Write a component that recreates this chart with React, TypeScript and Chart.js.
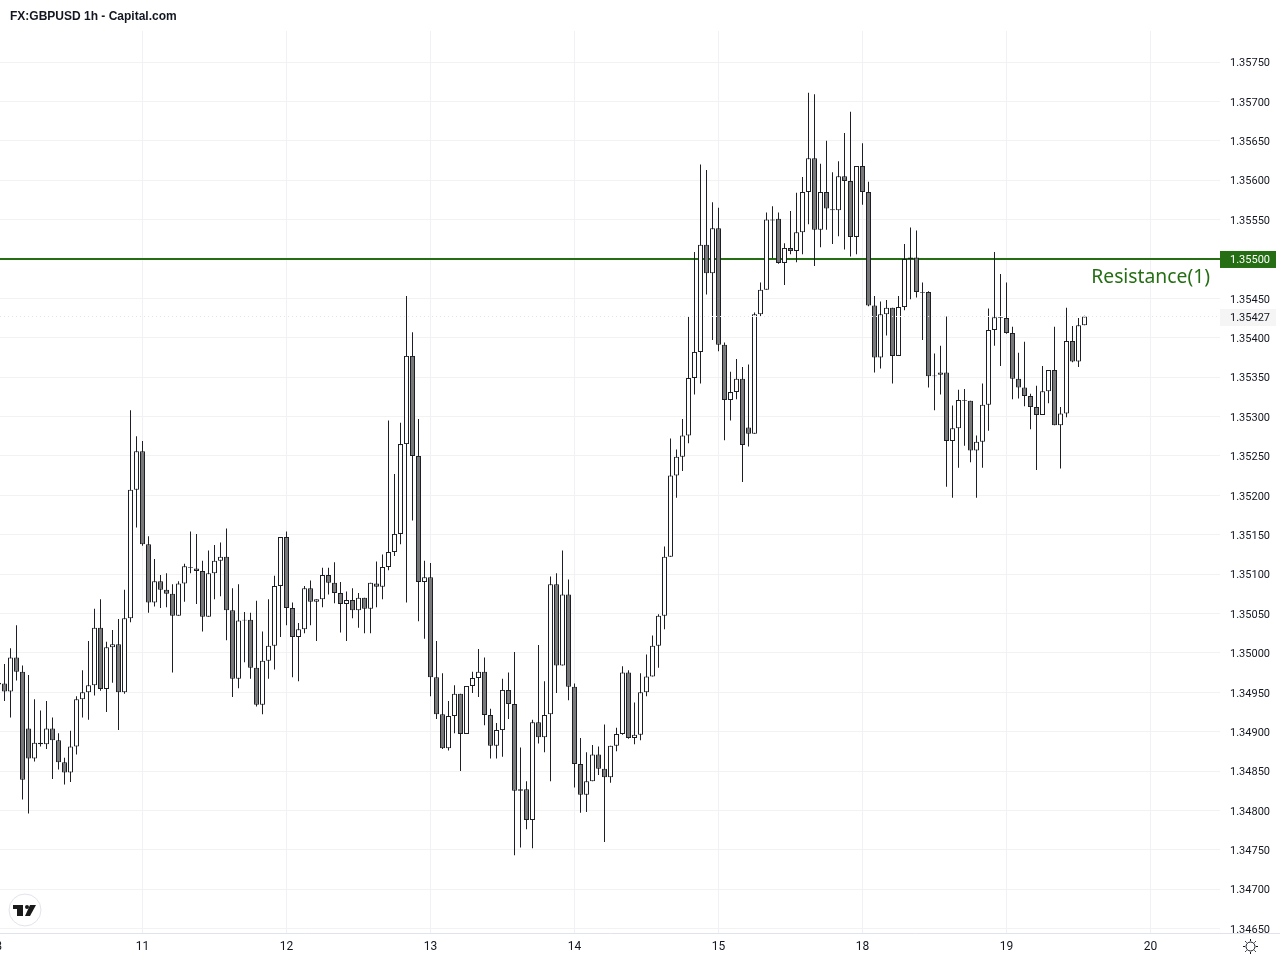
import React, { useEffect, useRef } from 'react'
import { Chart, registerables } from 'chart.js'

Chart.register(...registerables)

// hour of the first candle, counted from the 11th 00:00
const firstHour = -24

const opens = [
  1.34962, 1.34961, 1.34951, 1.34994, 1.34976, 1.34904, 1.34866, 1.34886, 1.34884, 1.34904, 1.34889,
  1.34861, 1.34848, 1.34881, 1.34941, 1.34950, 1.34959, 1.35032, 1.34954, 1.35007, 1.35011,
  1.34950, 1.35044, 1.35207, 1.35256, 1.35138, 1.35064, 1.35091, 1.35080, 1.35075, 1.35047,
  1.35088, 1.35109, 1.35107, 1.35104, 1.35046, 1.35101, 1.35117, 1.35122, 1.35054, 1.34967,
  1.35042, 1.35042, 1.34981, 1.34934, 1.34990, 1.35009, 1.35085, 1.35147, 1.35057, 1.35020,
  1.35030, 1.35082, 1.35065, 1.35068, 1.35099, 1.35089, 1.35076, 1.35062, 1.35067, 1.35054,
  1.35070, 1.35056, 1.35088, 1.35084, 1.35109, 1.35128, 1.35151, 1.35265, 1.35377, 1.35250,
  1.35090, 1.35096, 1.34969, 1.34922, 1.34879, 1.34920, 1.34948, 1.34897, 1.34958, 1.34968,
  1.34976, 1.34921, 1.34882, 1.34902, 1.34953, 1.34935, 1.34825, 1.34827, 1.34788, 1.34912,
  1.34893, 1.34922, 1.35087, 1.34984, 1.35074, 1.34957, 1.34859, 1.34820, 1.34837, 1.34871,
  1.34853, 1.34842, 1.34882, 1.34897, 1.34975, 1.34892, 1.34896, 1.34950, 1.34970, 1.35009,
  1.35047, 1.35122, 1.35225, 1.35249, 1.35276, 1.35349, 1.35382, 1.35518, 1.35482, 1.35539,
  1.35391, 1.35321, 1.35331, 1.35348, 1.35286, 1.35278, 1.35430, 1.35461, 1.35550, 1.35551,
  1.35495, 1.35514, 1.35510, 1.35534, 1.35585, 1.35628, 1.35537, 1.35585, 1.35563, 1.35562,
  1.35605, 1.35599, 1.35528, 1.35618, 1.35585, 1.35441, 1.35375, 1.35430, 1.35438, 1.35377,
  1.35439, 1.35500, 1.35502, 1.35458, 1.35458, 1.35352, 1.35353, 1.35356, 1.35269, 1.35285,
  1.35321, 1.35320, 1.35257, 1.35268, 1.35315, 1.35410, 1.35426, 1.35425, 1.35406, 1.35348,
  1.35337, 1.35326, 1.35312, 1.35302, 1.35332, 1.35359, 1.35289, 1.35304, 1.35396, 1.35370,
  1.35416,
]

const highs = [
  1.34971, 1.34986, 1.35006, 1.35035, 1.34984, 1.34972, 1.34941, 1.34927, 1.34939, 1.34918, 1.34898,
  1.34867, 1.34901, 1.34945, 1.34978, 1.35015, 1.35056, 1.35068, 1.35014, 1.35029, 1.35043,
  1.35080, 1.35308, 1.35275, 1.35269, 1.35148, 1.35119, 1.35099, 1.35101, 1.35087, 1.35091,
  1.35113, 1.35154, 1.35151, 1.35117, 1.35130, 1.35137, 1.35140, 1.35158, 1.35082, 1.35087,
  1.35052, 1.35051, 1.35066, 1.35027, 1.35068, 1.35098, 1.35147, 1.35154, 1.35064, 1.35038,
  1.35085, 1.35092, 1.35068, 1.35108, 1.35108, 1.35115, 1.35090, 1.35078, 1.35082, 1.35076,
  1.35070, 1.35089, 1.35116, 1.35125, 1.35295, 1.35227, 1.35292, 1.35453, 1.35407, 1.35297,
  1.35117, 1.35114, 1.35015, 1.34974, 1.34939, 1.34959, 1.34948, 1.34958, 1.34976, 1.35005,
  1.34994, 1.34929, 1.34911, 1.34967, 1.34975, 1.35001, 1.34880, 1.34837, 1.34915, 1.35010,
  1.34964, 1.35097, 1.35101, 1.35130, 1.35093, 1.34961, 1.34892, 1.34874, 1.34883, 1.34881,
  1.34909, 1.34882, 1.34905, 1.34983, 1.34978, 1.34937, 1.34974, 1.34998, 1.35022, 1.35049,
  1.35135, 1.35272, 1.35258, 1.35297, 1.35427, 1.35509, 1.35620, 1.35613, 1.35572, 1.35565,
  1.35394, 1.35357, 1.35373, 1.35363, 1.35366, 1.35432, 1.35470, 1.35559, 1.35567, 1.35559,
  1.35520, 1.35561, 1.35584, 1.35604, 1.35711, 1.35709, 1.35621, 1.35650, 1.35610, 1.35624,
  1.35660, 1.35687, 1.35618, 1.35647, 1.35598, 1.35453, 1.35446, 1.35448, 1.35438, 1.35453,
  1.35519, 1.35540, 1.35536, 1.35470, 1.35459, 1.35380, 1.35390, 1.35427, 1.35314, 1.35334,
  1.35335, 1.35320, 1.35276, 1.35342, 1.35437, 1.35509, 1.35481, 1.35470, 1.35414, 1.35381,
  1.35395, 1.35329, 1.35339, 1.35364, 1.35359, 1.35414, 1.35312, 1.35438, 1.35415, 1.35425,
  1.35428,
]

const lows = [
  1.34950, 1.34939, 1.34918, 1.34965, 1.34814, 1.34796, 1.34862, 1.34881, 1.34878, 1.34840, 1.34852,
  1.34833, 1.34836, 1.34871, 1.34918, 1.34915, 1.34946, 1.34952, 1.34925, 1.34962, 1.34902,
  1.34948, 1.35039, 1.35159, 1.35136, 1.35051, 1.35059, 1.35057, 1.35058, 1.34975, 1.35047,
  1.35065, 1.35101, 1.35062, 1.35027, 1.35046, 1.35068, 1.35072, 1.35016, 1.34944, 1.34955,
  1.34988, 1.34967, 1.34932, 1.34922, 1.34967, 1.34979, 1.35020, 1.35035, 1.34969, 1.34964,
  1.35025, 1.35035, 1.35015, 1.35058, 1.35074, 1.35063, 1.35026, 1.35015, 1.35044, 1.35032,
  1.35025, 1.35025, 1.35058, 1.35068, 1.35105, 1.35123, 1.35138, 1.35064, 1.35168, 1.35040,
  1.35018, 1.34945, 1.34916, 1.34878, 1.34876, 1.34898, 1.34850, 1.34897, 1.34949, 1.34944,
  1.34908, 1.34866, 1.34866, 1.34868, 1.34916, 1.34743, 1.34753, 1.34776, 1.34752, 1.34885,
  1.34874, 1.34837, 1.34949, 1.34984, 1.34940, 1.34829, 1.34797, 1.34798, 1.34837, 1.34845,
  1.34760, 1.34835, 1.34875, 1.34896, 1.34891, 1.34884, 1.34889, 1.34945, 1.34970, 1.34981,
  1.35030, 1.35122, 1.35197, 1.35231, 1.35266, 1.35328, 1.35342, 1.35455, 1.35397, 1.35383,
  1.35270, 1.35295, 1.35322, 1.35217, 1.35262, 1.35278, 1.35427, 1.35461, 1.35501, 1.35494,
  1.35467, 1.35506, 1.35496, 1.35506, 1.35544, 1.35491, 1.35515, 1.35537, 1.35519, 1.35529,
  1.35512, 1.35503, 1.35506, 1.35569, 1.35440, 1.35356, 1.35361, 1.35403, 1.35342, 1.35377,
  1.35435, 1.35449, 1.35451, 1.35397, 1.35337, 1.35308, 1.35328, 1.35211, 1.35197, 1.35235,
  1.35263, 1.35242, 1.35197, 1.35235, 1.35282, 1.35390, 1.35364, 1.35405, 1.35322, 1.35323,
  1.35313, 1.35284, 1.35232, 1.35302, 1.35317, 1.35289, 1.35234, 1.35299, 1.35369, 1.35363,
  1.35416,
]

const closes = [
  1.34960, 1.34951, 1.34994, 1.34976, 1.34839, 1.34866, 1.34886, 1.34884, 1.34904, 1.34889, 1.34861,
  1.34848, 1.34881, 1.34941, 1.34950, 1.34959, 1.35032, 1.34954, 1.35007, 1.35011, 1.34950,
  1.35044, 1.35207, 1.35256, 1.35138, 1.35064, 1.35091, 1.35080, 1.35075, 1.35047, 1.35088,
  1.35110, 1.35108, 1.35104, 1.35046, 1.35101, 1.35117, 1.35122, 1.35054, 1.34967, 1.35041,
  1.35041, 1.34981, 1.34934, 1.34990, 1.35009, 1.35085, 1.35147, 1.35057, 1.35020, 1.35030,
  1.35082, 1.35065, 1.35068, 1.35099, 1.35089, 1.35076, 1.35062, 1.35067, 1.35054, 1.35070,
  1.35056, 1.35089, 1.35084, 1.35109, 1.35128, 1.35151, 1.35265, 1.35377, 1.35250, 1.35090,
  1.35096, 1.34969, 1.34922, 1.34879, 1.34920, 1.34948, 1.34897, 1.34958, 1.34968, 1.34976,
  1.34921, 1.34882, 1.34902, 1.34953, 1.34935, 1.34825, 1.34827, 1.34788, 1.34912, 1.34893,
  1.34921, 1.35087, 1.34984, 1.35074, 1.34957, 1.34859, 1.34820, 1.34837, 1.34871, 1.34853,
  1.34842, 1.34882, 1.34897, 1.34975, 1.34892, 1.34896, 1.34950, 1.34970, 1.35009, 1.35047,
  1.35122, 1.35225, 1.35249, 1.35276, 1.35349, 1.35382, 1.35518, 1.35482, 1.35539, 1.35391,
  1.35321, 1.35331, 1.35348, 1.35264, 1.35278, 1.35430, 1.35461, 1.35550, 1.35549, 1.35495,
  1.35514, 1.35510, 1.35534, 1.35585, 1.35628, 1.35537, 1.35585, 1.35564, 1.35562, 1.35605,
  1.35599, 1.35528, 1.35618, 1.35585, 1.35441, 1.35375, 1.35430, 1.35438, 1.35377, 1.35439,
  1.35500, 1.35502, 1.35458, 1.35457, 1.35351, 1.35351, 1.35356, 1.35269, 1.35285, 1.35321,
  1.35320, 1.35257, 1.35268, 1.35315, 1.35410, 1.35426, 1.35425, 1.35406, 1.35348, 1.35337,
  1.35326, 1.35312, 1.35302, 1.35332, 1.35359, 1.35289, 1.35304, 1.35396, 1.35370, 1.35416,
  1.35427,
]

const dayTicks = [-24, 0, 24, 48, 72, 96, 120, 144, 168]
const dayLabels = ['8', '11', '12', '13', '14', '15', '18', '19', '20']
const priceTicks = [
  1.3465, 1.347, 1.3475, 1.348, 1.3485, 1.349, 1.3495, 1.35, 1.3505, 1.351, 1.3515, 1.352,
  1.3525, 1.353, 1.3535, 1.354, 1.3545, 1.355, 1.3555, 1.356, 1.3565, 1.357, 1.3575,
]

const resistance = 1.355
const resistanceName = 'Resistance(1)'
const lastPrice = 1.35427

const GREEN = '#266e14'
const INK = '#131722'

const hours = opens.map((_, i) => i + firstHour)
const isDown = (i: number) => opens[i] > closes[i]

// everything TradingView paints on top of the panes
const overlayPlugin = {
  id: 'overlay',
  afterDraw(chart: Chart) {
    const { ctx, scales } = chart
    const y = scales.y
    ctx.save()

    // the lowest price label gets cut off by the time axis
    ctx.fillStyle = '#ffffff'
    ctx.fillRect(1220, 933, 60, 27)
    ctx.fillStyle = '#e0e3eb'
    ctx.fillRect(1220, 933, 60, 1)

    const labelFont = '11px Roboto'
    ctx.textBaseline = 'middle'
    ctx.textAlign = 'left'

    const rY = y.getPixelForValue(resistance)
    ctx.fillStyle = GREEN
    ctx.fillRect(1220, rY - 8, 56, 17)
    ctx.fillStyle = '#ffffff'
    ctx.font = labelFont
    ctx.fillText(resistance.toFixed(5), 1230, rY + 1)

    const lY = y.getPixelForValue(lastPrice)
    ctx.fillStyle = '#f5f5f5'
    ctx.fillRect(1220, lY - 7.5, 56, 17)
    ctx.fillStyle = INK
    ctx.fillText(lastPrice.toFixed(5), 1230, lY + 1.5)

    ctx.fillStyle = GREEN
    ctx.font = '19.3px "Noto Sans"'
    ctx.textAlign = 'right'
    ctx.fillText(resistanceName, 1210, rY + 19)

    // logo badge
    ctx.beginPath()
    ctx.arc(25, 910, 16, 0, Math.PI * 2)
    ctx.fillStyle = '#ffffff'
    ctx.fill()
    ctx.strokeStyle = '#e0e3eb'
    ctx.lineWidth = 1
    ctx.stroke()
    ctx.fillStyle = '#1a1a1a'
    ctx.fillRect(13, 905, 10, 4)
    ctx.fillRect(17, 905, 6, 11)
    ctx.beginPath()
    ctx.arc(27, 907, 2, 0, Math.PI * 2)
    ctx.fill()
    ctx.beginPath()
    ctx.moveTo(30, 905)
    ctx.lineTo(36, 905)
    ctx.lineTo(30, 916)
    ctx.lineTo(25, 916)
    ctx.closePath()
    ctx.fill()

    // settings sun
    ctx.strokeStyle = INK
    ctx.beginPath()
    ctx.arc(1250.5, 946.5, 4.5, 0, Math.PI * 2)
    ctx.stroke()
    for (let a = 0; a < 8; a++) {
      const t = (a * Math.PI) / 4
      ctx.beginPath()
      ctx.moveTo(1250.5 + Math.cos(t) * 5.5, 946.5 + Math.sin(t) * 5.5)
      ctx.lineTo(1250.5 + Math.cos(t) * 7.5, 946.5 + Math.sin(t) * 7.5)
      ctx.stroke()
    }
    ctx.restore()
  },
}

export default function App() {
  const canvasRef = useRef<HTMLCanvasElement>(null)

  useEffect(() => {
    if (!canvasRef.current) return

    const xMin = hours[0] + 0.25
    const xMax = xMin + 1220 / 6

    const chart = new Chart(canvasRef.current, {
      type: 'bar',
      data: {
        datasets: [
          {
            type: 'line',
            data: [{ x: xMin, y: lastPrice }, { x: xMax, y: lastPrice }],
            borderColor: '#e4e4e4',
            borderWidth: 1,
            borderDash: [1, 3],
            pointRadius: 0,
            order: 0,
          },
          {
            data: hours.map((h, i) => ({ x: h, y: [opens[i], closes[i]] })),
            grouped: false,
            barThickness: 5,
            backgroundColor: hours.map((_, i) => (isDown(i) ? '#787878' : '#ffffff')),
            borderColor: '#1c1f26',
            borderWidth: 1,
            borderSkipped: false,
            inflateAmount: 0,
            order: 1,
          },
          {
            data: hours.map((h, i) => ({ x: h, y: [lows[i], highs[i]] })),
            grouped: false,
            barThickness: 1,
            backgroundColor: '#1c1f26',
            borderWidth: 0,
            inflateAmount: 0,
            order: 2,
          },
          {
            type: 'line',
            data: [{ x: xMin, y: resistance }, { x: xMax, y: resistance }],
            borderColor: GREEN,
            borderWidth: 2,
            pointRadius: 0,
            order: 3,
          },
        ],
      } as any,
      options: {
        responsive: false,
        animation: false,
        layout: { padding: { top: 31 } },
        plugins: {
          legend: { display: false },
          title: { display: false },
          tooltip: { enabled: false },
        },
        scales: {
          x: {
            type: 'linear',
            min: xMin,
            max: xMax,
            offset: false,
            grid: { color: '#f0f1f4', offset: false, drawTicks: false },
            border: { color: '#e0e3eb' },
            ticks: {
              autoSkip: false,
              maxRotation: 0,
              padding: 7,
              color: INK,
              font: { family: 'Roboto', size: 12 },
              callback: (v: any) => dayLabels[dayTicks.indexOf(Number(v))],
            },
            afterBuildTicks: (axis: any) => {
              axis.ticks = dayTicks.map(value => ({ value }))
            },
            afterFit: (axis: any) => {
              axis.height = 27
              axis.paddingLeft = 0
              axis.paddingRight = 0
            },
          },
          y: {
            type: 'linear',
            position: 'right',
            min: 1.346444,
            max: 1.357894,
            grid: { color: '#f2f2f2', drawTicks: false },
            border: { display: false },
            ticks: {
              padding: 10,
              color: INK,
              // two-line label with a blank first line: nudges the text down 1.5px
              font: { family: 'Roboto', size: 11, lineHeight: '3px' },
              callback: (v: any) => ['', Number(v).toFixed(5)],
            },
            afterBuildTicks: (axis: any) => {
              axis.ticks = priceTicks.map(value => ({ value }))
            },
            afterFit: (axis: any) => {
              axis.width = 60
              axis.paddingTop = 0
              axis.paddingBottom = 0
            },
          },
        },
      },
      plugins: [overlayPlugin],
    } as any)

    return () => {
      chart.destroy()
    }
  }, [])

  return (
    <div style={{ position: 'absolute', left: 0, top: 0, width: 1280, height: 960, background: '#fff', overflow: 'hidden' }}>
      <canvas ref={canvasRef} width={1280} height={960} style={{ display: 'block' }} />
      <div
        style={{
          position: 'absolute',
          left: 10,
          top: 9,
          font: 'bold 12px "Liberation Sans", Arial, sans-serif',
          color: '#131722',
          whiteSpace: 'nowrap',
        }}
      >
        FX:GBPUSD 1h - Capital.com
      </div>
    </div>
  )
}
